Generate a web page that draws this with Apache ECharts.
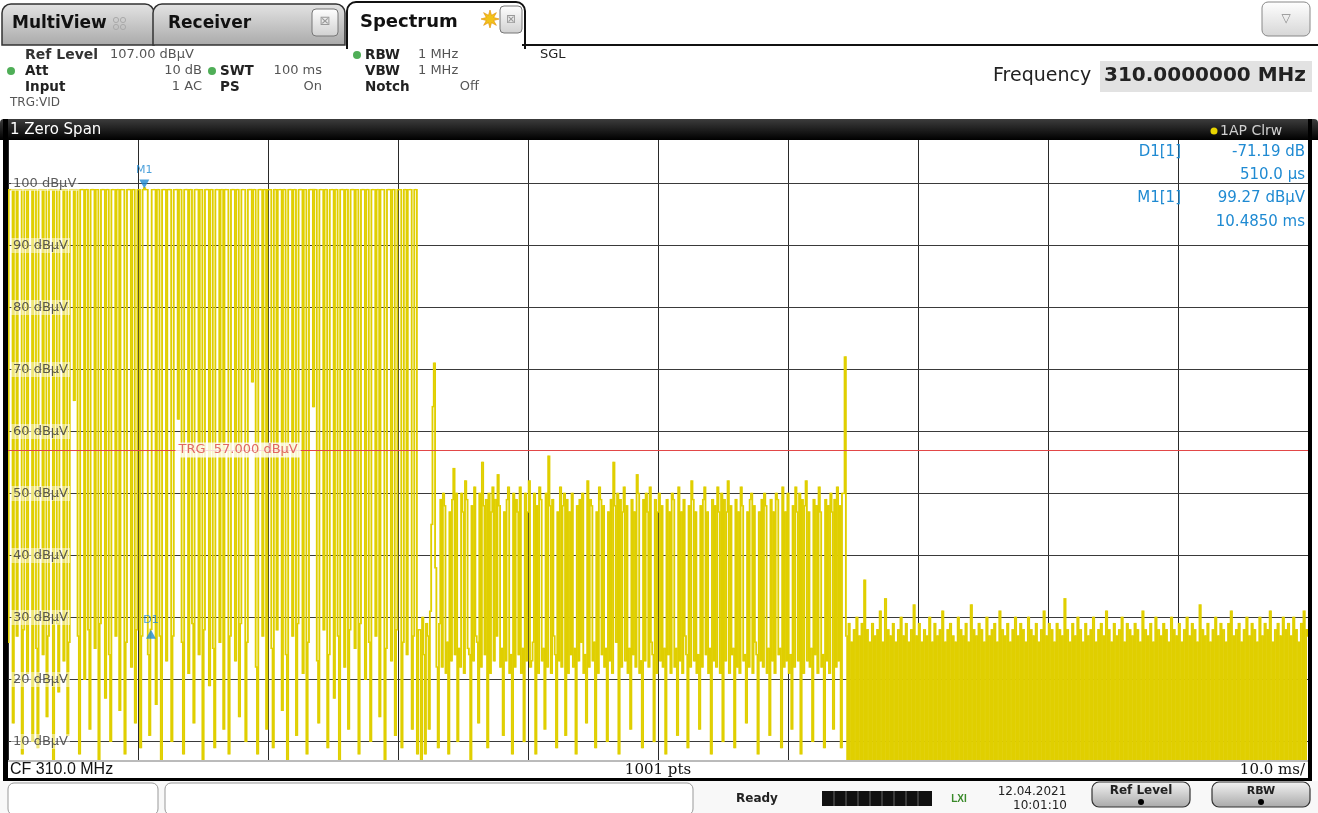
<!DOCTYPE html>
<html><head><meta charset="utf-8">
<script src="https://cdn.jsdelivr.net/npm/echarts/dist/echarts.min.js"></script>
<style>html,body{margin:0;padding:0;background:#fff;}#c{width:1318px;height:813px;}</style>
</head><body><div id="c"></div>
<script>
// ---------------- data ----------------
const sweepTimeMs = 100;
const numPoints = 1001;
const refLevel = 107;
const bottomLevel = 7;
const yTicks = [10, 20, 30, 40, 50, 60, 70, 80, 90, 100];
const yUnit = 'dBµV';
const trgLevel = 57.0;
const centerFreqMHz = 310.0;
const m1TimeMs = 10.485;
const m1Level = 99.27;
const d1DeltaTimeUs = 510.0;
const d1DeltaLevel = -71.19;

// 0 ... 31.6 ms : strong OOK burst
const traceA = [
26,99,99,99,13,99,99,27,99,99,99,8,28,99,99,21,99,99,99,10,
99,99,25,9,99,99,99,24,99,99,14,27,99,99,99,7,99,99,29,18,
99,99,99,23,99,99,11,26,99,99,99,65,99,99,27,8,99,99,99,20,
99,99,28,12,99,99,99,25,99,99,7,29,99,99,99,17,99,99,24,10,
99,99,99,27,99,99,15,99,99,99,8,26,99,99,99,22,99,99,13,28,
99,99,9,27,99,99.27,99,99,24,11,28.08,99,99,99,16,99,99,27,7,99,
99,99,23,99,99,99,10,27,99,99,99,62,99,99,26,8,99,99,99,21,
99,99,29,13,99,99,99,24,99,99,7,28,99,99,99,19,99,99,25,9,
99,99,99,26,99,99,12,99,99,99,8,27,99,99,99,23,99,99,14,29,
99,99,99,10,26,99,99,99,68,99,99,22,8,99,99,99,27,99,99,12,
99,99,99,25,9,99,99,28,99,99,99,15,99,99,24,7,99,99,99,27,
99,99,11,29,99,99,99,21,99,99,8,26,99,99,99,64,99,99,23,13,
99,99,99,28,99,99,9,24,99,99,99,17,99,99,27,7,99,99,99,22,
99,99,12,28,99,99,99,25,99,99,8,29,99,99,99,20,99,99,26,10,
99,99,99,27,99,99,14,99,99,99,7,25,99,99,99,23,99,99,11,28,
99,99,99,9,26,99,99,24,99,99,99,12,27,99,99,8,28
];
// 31.7 ... 64.4 ms : weak burst
const traceB = [
28,7,30,24,8,29,27,12,31,45,64,71,38,
22,9,29,49,22,50,48,21,26,8,47,23,49,54,24,50,10,25,22,50,
47,21,52,49,25,24,7,48,23,51,27,26,13,50,22,55,48,24,49,9,
50,21,47,51,23,49,27,53,48,22,25,11,47,23,49,51,21,24,8,50,
22,49,47,24,51,21,25,10,50,23,47,52,22,23,26,50,8,48,21,51,
49,23,25,12,50,22,56,48,21,49,27,24,9,47,23,51,22,48,50,11,
49,21,47,24,50,22,25,8,48,23,49,26,50,21,24,13,52,22,49,48,
23,26,9,47,21,51,49,24,48,22,25,10,47,23,49,21,55,48,26,50,
8,49,22,47,51,23,48,21,25,12,49,24,47,22,53,50,21,23,9,49,
23,50,47,22,51,26,24,10,49,21,47,50,23,48,22,25,8,49,24,47,
21,50,49,22,25,11,51,23,47,21,49,27,24,9,48,22,52,49,23,47,
21,24,12,48,22,49,51,24,47,21,25,8,49,23,48,22,51,47,21,50,
10,49,23,47,52,21,48,24,25,9,49,22,47,21,51,48,23,24,13,47,
22,49,50,21,48,26,24,8,47,23,49,22,50,48,21,25,11,49,23,47,
21,50,49,24,25,9,51,22,47,23,50,21,24,12,48,22,51,47,23,50,
8,49,21,48,52,23,47,22,25,10,49,24,48,21,51,47,22,24,9,49,
23,48,21,50,47,12,49,22,51,23,48,9,50,50,72
];
// 64.5 ... 100 ms : noise floor
const traceC = [
27,6,29,7,26,5,28,7,30,6,27,7,29,5,36,7,28,6,26,7,
29,5,27,7,28,6,31,7,26,5,33,7,28,6,27,7,29,5,26,7,
28,6,30,7,27,5,29,7,26,6,28,7,32,5,27,7,29,6,26,7,
28,5,27,7,30,6,26,7,29,5,27,7,28,6,31,7,26,5,28,7,
29,6,27,7,26,5,30,7,28,6,27,7,29,5,26,7,32,6,28,7,
27,5,29,7,28,6,26,7,30,5,27,7,28,6,29,7,26,5,31,7,
28,6,27,7,29,5,26,7,28,6,30,7,27,5,29,7,28,6,26,7,
30,5,28,7,27,6,29,7,26,5,28,7,31,6,27,7,29,5,28,7,
26,6,29,7,28,5,27,7,33,6,28,7,26,5,29,7,27,6,30,7,
28,5,26,7,29,6,27,7,28,5,30,7,26,6,28,7,29,5,27,7,
31,6,28,7,26,5,29,7,27,6,28,7,30,5,26,7,29,6,28,7,
27,5,29,7,28,6,26,7,31,5,28,7,27,6,29,7,26,5,30,7,
28,6,27,7,29,5,28,7,26,6,30,7,28,5,27,7,29,6,26,7,
28,5,30,7,27,6,29,7,28,5,26,7,32,6,28,7,27,5,29,7,
26,6,28,7,30,5,27,7,29,6,28,7,26,5,29,7,31,6,27,7,
28,5,29,7,26,6,28,7,30,5,27,7,29,6,28,7,26,5,30,7,
27,6,29,7,28,5,31,7,26,6,28,7,29,5,27,7,30,6,28,7,
29,5,27,7,30,6,28,7,26,5,29,7,31,6,28,27
];

// ---------------- build ----------------
const trace = traceA.concat(traceB, traceC);
const dt = sweepTimeMs / (numPoints - 1);
// one drawn stroke per sample interval: [t_i, level_i, t_i+1, level_i+1]
const segData = [];
for (let i = 0; i < trace.length - 1; i++) segData.push([i * dt, trace[i], (i + 1) * dt, trace[i + 1]]);
const d1Time = m1TimeMs + d1DeltaTimeUs / 1000;
const d1Level = m1Level + d1DeltaLevel;

const FONT = '"DejaVu Sans", Verdana, sans-serif';
const TRACE = '#e0cf00';
const BLUE = '#1f8ad2';
const G = (a, b) => new echarts.graphic.LinearGradient(0, 0, 0, 1, [{offset: 0, color: a}, {offset: 1, color: b}]);
function T(x, y, text, o) {
  o = o || {};
  return {type: 'text', x: x, y: y, z: 100, silent: true, style: {
    text: text, fill: o.fill || '#222',
    font: (o.weight || 'normal') + ' ' + (o.size || 13) + 'px ' + (o.family || FONT),
    textAlign: o.align || 'left', textVerticalAlign: 'middle'}};
}
function R(x, y, w, h, fill, stroke, lw, r, z) {
  return {type: 'rect', z: z || 90, silent: true, shape: {x: x, y: y, width: w, height: h, r: r || 0},
    style: {fill: fill, stroke: stroke || null, lineWidth: lw || 0}};
}
function Ln(x1, y1, x2, y2, c, w) {
  return {type: 'line', z: 95, silent: true, shape: {x1: x1, y1: y1, x2: x2, y2: y2}, style: {stroke: c, lineWidth: w || 1}};
}
function dot(cx, cy, c, r) {
  return {type: 'circle', z: 96, silent: true, shape: {cx: cx, cy: cy, r: r || 4}, style: {fill: c}};
}
const starPts = [];
for (let k = 0; k < 16; k++) {
  const a = Math.PI * 2 * k / 16 - Math.PI / 2;
  const rr = (k % 2 === 0) ? 9 : 4;
  starPts.push([490 + rr * Math.cos(a), 19 + rr * Math.sin(a)]);
}

const graphics = [
  Ln(522, 45, 1318, 45, '#111', 2),
  R(2, 4, 152, 41, G('#e4e4e4', '#a9a9a9'), '#333', 1.5, [9, 9, 0, 0]),
  T(12, 24, 'MultiView', {weight: 'bold', size: 17, fill: '#111'}),
  {type: 'circle', z: 97, shape: {cx: 116, cy: 20, r: 2.6}, style: {fill: 'none', stroke: '#aaa', lineWidth: 1}},
  {type: 'circle', z: 97, shape: {cx: 123, cy: 20, r: 2.6}, style: {fill: 'none', stroke: '#aaa', lineWidth: 1}},
  {type: 'circle', z: 97, shape: {cx: 116, cy: 27, r: 2.6}, style: {fill: 'none', stroke: '#aaa', lineWidth: 1}},
  {type: 'circle', z: 97, shape: {cx: 123, cy: 27, r: 2.6}, style: {fill: 'none', stroke: '#aaa', lineWidth: 1}},
  R(153, 4, 192, 41, G('#e4e4e4', '#a9a9a9'), '#333', 1.5, [9, 9, 0, 0]),
  T(168, 24, 'Receiver', {weight: 'bold', size: 17, fill: '#111'}),
  R(312, 9, 26, 27, G('#ffffff', '#d0d0d0'), '#777', 1, 4, 96),
  T(325, 22, '⊠', {size: 13, fill: '#999', align: 'center'}),
  R(347, 2, 178, 46, '#ffffff', '#111', 2, [9, 9, 0, 0]),
  R(348, 40, 176, 10, '#ffffff', null, 0, 0, 92),
  T(360, 22, 'Spectrum', {weight: 'bold', size: 18, fill: '#111'}),
  {type: 'polygon', z: 97, shape: {points: starPts}, style: {fill: '#f2c21a', stroke: '#e08a00', lineWidth: 0.6}},
  R(500, 6, 22, 27, G('#ffffff', '#d0d0d0'), '#777', 1, 4, 96),
  T(511, 20, '⊠', {size: 12, fill: '#999', align: 'center'}),
  R(1262, 2, 48, 34, G('#ffffff', '#d6d6d6'), '#888', 1, 6, 96),
  T(1286, 19, '▽', {size: 12, fill: '#888', align: 'center'}),
  T(25, 55, 'Ref Level', {weight: 'bold', size: 14, fill: '#333'}),
  T(110, 55, refLevel.toFixed(2) + ' ' + yUnit, {size: 13, fill: '#555'}),
  dot(11, 71, '#4fae57'), T(25, 71, 'Att', {weight: 'bold', size: 13.5}),
  T(202, 71, '10 dB', {size: 13, fill: '#555', align: 'right'}),
  dot(212, 71, '#4fae57'), T(220, 71, 'SWT', {weight: 'bold', size: 13.5}),
  T(322, 71, sweepTimeMs + ' ms', {size: 13, fill: '#555', align: 'right'}),
  T(25, 87, 'Input', {weight: 'bold', size: 13.5}),
  T(202, 87, '1 AC', {size: 13, fill: '#555', align: 'right'}),
  T(220, 87, 'PS', {weight: 'bold', size: 13.5}),
  T(322, 87, 'On', {size: 13, fill: '#555', align: 'right'}),
  T(10, 103, 'TRG:VID', {size: 12, fill: '#555'}),
  dot(357, 55, '#4fae57'), T(365, 55, 'RBW', {weight: 'bold', size: 13.5}),
  T(418, 55, '1 MHz', {size: 13, fill: '#555'}),
  T(365, 71, 'VBW', {weight: 'bold', size: 13.5}),
  T(418, 71, '1 MHz', {size: 13, fill: '#555'}),
  T(365, 87, 'Notch', {weight: 'bold', size: 13.5}),
  T(479, 87, 'Off', {size: 13, fill: '#555', align: 'right'}),
  T(540, 55, 'SGL', {size: 13, fill: '#222'}),
  T(993, 76, 'Frequency', {size: 19, fill: '#222'}),
  R(1100, 61, 212, 31, '#e2e2e2', null, 0, 0, 90),
  T(1306, 76, centerFreqMHz.toFixed(7) + ' MHz', {weight: 'bold', size: 20, fill: '#222', align: 'right'}),
  R(0, 119, 1318, 21, G('#3c3c3c', '#000000'), null, 0, [4, 4, 0, 0]),
  T(10, 130, '1 Zero Span', {size: 15, fill: '#fff'}),
  dot(1214, 131, '#e8d400', 3.5),
  T(1220, 131, '1AP Clrw', {size: 14, fill: '#cfcfcf'}),
  R(3, 119, 5, 662, '#000', null, 0, 0, 95),
  R(1308, 119, 4, 662, '#000', null, 0, 0, 95),
  Ln(8, 761, 1308, 761, '#777', 1),
  R(3, 778, 1309, 3, '#000', null, 0, 0, 95),
  T(10, 770, 'CF ' + centerFreqMHz.toFixed(1) + ' MHz', {size: 16, fill: '#111', family: '"Liberation Sans", Arial, sans-serif'}),
  T(658, 770, numPoints + ' pts', {size: 15, fill: '#111', align: 'center', family: '"DejaVu Serif", serif'}),
  T(1305, 770, (sweepTimeMs / 10).toFixed(1) + ' ms/', {size: 15, fill: '#111', align: 'right', family: '"DejaVu Serif", serif'}),
  R(0, 781, 1318, 32, '#f8f8f8', null, 0, 0, 80),
  R(8, 783, 150, 32, '#fff', '#999', 1, 6, 85),
  R(165, 783, 528, 32, '#fff', '#999', 1, 6, 85),
  T(757, 799, 'Ready', {weight: 'bold', size: 12, fill: '#222', align: 'center'}),
  R(822, 791, 110, 15, '#111', null, 0, 0, 90),
  Ln(834, 791, 834, 806, '#666', 1), Ln(846, 791, 846, 806, '#666', 1), Ln(858, 791, 858, 806, '#666', 1),
  Ln(870, 791, 870, 806, '#666', 1), Ln(882, 791, 882, 806, '#666', 1), Ln(894, 791, 894, 806, '#666', 1),
  Ln(906, 791, 906, 806, '#666', 1), Ln(918, 791, 918, 806, '#666', 1),
  T(959, 799, 'LXI', {weight: 'bold', size: 10, fill: '#3a8a2a', align: 'center', family: '"Liberation Sans", sans-serif'}),
  T(1032, 792, '12.04.2021', {size: 12, fill: '#222', align: 'center'}),
  T(1040, 806, '10:01:10', {size: 12, fill: '#222', align: 'center'}),
  R(1092, 782, 98, 25, G('#f4f4f4', '#a8a8a8'), '#333', 1.2, 7, 90),
  T(1141, 791, 'Ref Level', {weight: 'bold', size: 12, fill: '#222', align: 'center'}),
  dot(1141, 802, '#000', 3),
  R(1212, 782, 98, 25, G('#f4f4f4', '#a8a8a8'), '#333', 1.2, 7, 90),
  T(1261, 791, 'RBW', {weight: 'bold', size: 11, fill: '#222', align: 'center'}),
  dot(1261, 802, '#000', 3),
  T(1181, 152, 'D1[1]', {size: 15, fill: BLUE, align: 'right'}),
  T(1305, 152, d1DeltaLevel.toFixed(2) + ' dB', {size: 15, fill: BLUE, align: 'right'}),
  T(1305, 175, d1DeltaTimeUs.toFixed(1) + ' µs', {size: 15, fill: BLUE, align: 'right'}),
  T(1181, 198, 'M1[1]', {size: 15, fill: BLUE, align: 'right'}),
  T(1305, 198, m1Level.toFixed(2) + ' ' + yUnit, {size: 15, fill: BLUE, align: 'right'}),
  T(1305, 222, m1TimeMs.toFixed(4) + ' ms', {size: 15, fill: BLUE, align: 'right'})
];

const chart = echarts.init(document.getElementById('c'), null, {renderer: 'canvas', width: 1318, height: 813});
chart.setOption({
  animation: false,
  backgroundColor: '#ffffff',
  grid: {left: 8, top: 140, width: 1300, height: 620, containLabel: false},
  xAxis: {type: 'value', min: 0, max: sweepTimeMs, interval: 10,
    axisLine: {show: false}, axisTick: {show: false}, axisLabel: {show: false},
    splitLine: {show: true, lineStyle: {color: '#2a2a2a', width: 1}}},
  yAxis: {type: 'value', min: bottomLevel, max: refLevel,
    axisLine: {show: false}, axisTick: {show: false}, axisLabel: {show: false}, splitLine: {show: false}},
  graphic: graphics,
  series: [
    {type: 'lines', coordinateSystem: 'cartesian2d', z: 1, silent: true, animation: false,
      lineStyle: {color: '#3a3a3a', width: 1, opacity: 1},
      data: yTicks.map(v => ({coords: [[0, v], [sweepTimeMs, v]]}))},
    {type: 'custom', name: 'trace', z: 2, silent: true, clip: true, animation: false,
      data: segData, encode: {x: [0, 2], y: [1, 3]},
      renderItem: function (params, api) {
        const a = api.coord([api.value(0), api.value(1)]);
        const b = api.coord([api.value(2), api.value(3)]);
        const cs = params.coordSys;
        let top = Math.min(a[1], b[1]) - 0.7;
        let bot = Math.max(a[1], b[1]) + 0.7;
        top = Math.max(top, cs.y);
        bot = Math.min(bot, cs.y + cs.height);
        if (bot <= top) return null;
        return {type: 'rect', shape: {x: a[0] - 0.25, y: top, width: b[0] - a[0] + 0.55, height: bot - top},
          style: {fill: TRACE}};
      }},
    {type: 'lines', coordinateSystem: 'cartesian2d', z: 3, silent: true, animation: false,
      lineStyle: {color: '#e24848', width: 1, opacity: 1},
      data: [{coords: [[0, trgLevel], [sweepTimeMs, trgLevel]]}]},
    {type: 'scatter', z: 4, silent: true, symbolSize: 0, itemStyle: {color: 'transparent'},
      data: yTicks.map(v => [0, v]),
      label: {show: true, position: 'right', distance: 3, formatter: p => p.value[1] + ' ' + yUnit,
        color: '#333', fontSize: 13, fontFamily: FONT, backgroundColor: 'rgba(255,255,255,0.6)', padding: [1, 2]}},
    {type: 'scatter', z: 5, silent: true, symbolSize: 0, itemStyle: {color: 'transparent'},
      data: [[17.7, trgLevel]],
      label: {show: true, position: 'inside', formatter: 'TRG  ' + trgLevel.toFixed(3) + ' ' + yUnit,
        color: '#d94444', fontSize: 13, fontFamily: FONT, backgroundColor: '#ffffff', padding: [1, 3]}},
    {type: 'scatter', z: 6, silent: true, symbol: 'triangle', symbolSize: [10, 9], symbolRotate: 180,
      symbolOffset: [0, -4], itemStyle: {color: BLUE},
      data: [[m1TimeMs, m1Level]],
      label: {show: true, position: 'top', distance: 4, formatter: 'M1', color: BLUE, fontSize: 11, fontFamily: FONT}},
    {type: 'scatter', z: 6, silent: true, symbol: 'triangle', symbolSize: [10, 9],
      symbolOffset: [0, 5], itemStyle: {color: BLUE},
      data: [[d1Time, d1Level]],
      label: {show: true, position: 'top', distance: 4, formatter: 'D1', color: BLUE, fontSize: 11, fontFamily: FONT}}
  ]
});
</script>
</body></html>
